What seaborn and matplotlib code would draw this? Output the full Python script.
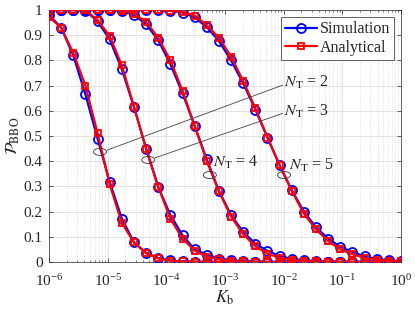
import numpy as np
import pandas as pd
import seaborn as sns
from matplotlib import pyplot as plt
from matplotlib.patches import Ellipse
from matplotlib.ticker import FixedLocator, LogLocator, NullFormatter, NullLocator

# Kb grid (30 log-spaced samples between 1e-6 and 1)
kb = np.logspace(-6, 0, 30)

# P_BBO, simulation (blue) and analytical (red), one list per N_T
sim_nt2 = [0.980, 0.930, 0.820, 0.665, 0.490, 0.318, 0.172, 0.078, 0.036, 0.016,
           0.006, 0.002, 0.001, 0, 0, 0, 0, 0, 0, 0,
           0, 0, 0, 0, 0, 0, 0, 0, 0, 0]
ana_nt2 = [0.973, 0.930, 0.830, 0.700, 0.512, 0.308, 0.155, 0.078, 0.035, 0.014,
           0.005, 0.002, 0.001, 0, 0, 0, 0, 0, 0, 0,
           0, 0, 0, 0, 0, 0, 0, 0, 0, 0]
sim_nt3 = [1.0, 1.0, 1.0, 0.998, 0.955, 0.883, 0.765, 0.615, 0.450, 0.298,
           0.186, 0.106, 0.050, 0.029, 0.013, 0.006, 0.003, 0.001, 0, 0,
           0, 0, 0, 0, 0, 0, 0, 0, 0, 0]
ana_nt3 = [1.0, 1.0, 1.0, 0.999, 0.960, 0.897, 0.780, 0.617, 0.450, 0.298,
           0.172, 0.093, 0.045, 0.021, 0.010, 0.004, 0.002, 0.001, 0, 0,
           0, 0, 0, 0, 0, 0, 0, 0, 0, 0]
sim_nt4 = [1.0, 1.0, 1.0, 1.0, 1.0, 1.0, 0.997, 0.980, 0.944, 0.880,
           0.785, 0.670, 0.540, 0.407, 0.282, 0.186, 0.119, 0.073, 0.044, 0.024,
           0.012, 0.006, 0.003, 0.001, 0, 0, 0, 0, 0, 0]
ana_nt4 = [1.0, 1.0, 1.0, 1.0, 1.0, 1.0, 0.998, 0.985, 0.953, 0.890,
           0.800, 0.680, 0.540, 0.400, 0.280, 0.180, 0.110, 0.062, 0.033, 0.017,
           0.008, 0.004, 0.002, 0.001, 0, 0, 0, 0, 0, 0]
sim_nt5 = [1.0, 1.0, 1.0, 1.0, 1.0, 1.0, 1.0, 1.0, 1.0, 1.0,
           0.997, 0.990, 0.971, 0.932, 0.877, 0.800, 0.709, 0.605, 0.494, 0.384,
           0.285, 0.200, 0.137, 0.093, 0.060, 0.040, 0.022, 0.012, 0.006, 0.003]
ana_nt5 = [1.0, 1.0, 1.0, 1.0, 1.0, 1.0, 1.0, 1.0, 1.0, 1.0,
           0.998, 0.992, 0.978, 0.940, 0.890, 0.815, 0.718, 0.610, 0.494, 0.384,
           0.282, 0.192, 0.129, 0.083, 0.050, 0.031, 0.016, 0.009, 0.004, 0.002]

nt_values = [2, 3, 4, 5]
sim_curves = [sim_nt2, sim_nt3, sim_nt4, sim_nt5]
ana_curves = [ana_nt2, ana_nt3, ana_nt4, ana_nt5]

rows = []
for nt, s, a in zip(nt_values, sim_curves, ana_curves):
    for k, vs, va in zip(kb, s, a):
        rows.append({'Kb': k, 'P': vs, 'NT': nt, 'method': 'Simulation'})
        rows.append({'Kb': k, 'P': va, 'NT': nt, 'method': 'Analytical'})
df = pd.DataFrame(rows)

sns.set_style('ticks')
plt.rcParams['font.family'] = ['Liberation Serif', 'DejaVu Serif']
plt.rcParams['mathtext.fontset'] = 'stix'
plt.rcParams['font.size'] = 11

fig = plt.figure(figsize=(4.15, 3.12), dpi=100)
ax = fig.add_axes([49 / 415, 1 - 262 / 312, 352 / 415, 252 / 312])

styles = {'Simulation': ('#0000ff', 'o', 6.5), 'Analytical': ('#ff0000', 's', 4.8)}
for method in ['Simulation', 'Analytical']:
    color, marker, ms = styles[method]
    for i, nt in enumerate(nt_values):
        sub = df[(df['method'] == method) & (df['NT'] == nt)]
        sns.lineplot(data=sub, x='Kb', y='P', ax=ax, color=color, lw=1.6,
                     marker=marker, markersize=ms, markerfacecolor='none',
                     markeredgecolor=color, markeredgewidth=1.3,
                     label=method if i == 0 else None, legend=False, zorder=3)

ax.set_xscale('log')
ax.set_xlim(1e-6, 1)
ax.set_ylim(0, 1)
ax.set_xticks([1e-6, 1e-5, 1e-4, 1e-3, 1e-2, 1e-1, 1])
ax.xaxis.set_minor_locator(LogLocator(base=10, subs=np.arange(2, 10)))
ax.xaxis.set_minor_formatter(NullFormatter())
ax.yaxis.set_minor_locator(NullLocator())
yt = np.round(np.arange(0, 1.01, 0.1), 1)
ax.yaxis.set_major_locator(FixedLocator(yt))
ax.set_yticklabels(['{:g}'.format(v) for v in yt])

ax.grid(True, which='major', color='#dedede', lw=0.6, ls='-')
ax.grid(True, which='minor', axis='x', color='#d0d0d0', lw=0.5, ls=':')
ax.set_axisbelow(True)
ax.tick_params(which='both', direction='in', top=True, right=True, color='#262626',
               labelsize=11, labelcolor='#262626')
ax.tick_params(which='major', length=3, width=0.5)
ax.tick_params(which='minor', length=1.5, width=0.4)
ax.tick_params(axis='x', which='major', pad=8)
ax.tick_params(axis='y', which='major', pad=4.5)
for sp in ax.spines.values():
    sp.set_color('#262626')
    sp.set_linewidth(0.5)

ax.set_xlabel(r'$K_{\rm b}$', fontsize=12.5, labelpad=0)
ax.set_ylabel(r'$\mathcal{P}_{\rm BBO}$', fontsize=12.5, labelpad=1)

leg = ax.legend(loc='upper right', fancybox=False, edgecolor='#262626', framealpha=1,
                fontsize=11.5, handlelength=2.0, handletextpad=0.15, labelspacing=0.15,
                borderpad=0.25, borderaxespad=0.45)
leg.get_frame().set_linewidth(0.5)

# N_T annotations (ellipses, leader lines and labels in axes fractions)
ell_w, ell_h = 0.037, 0.028
for cx, cy in [(0.145, 0.437), (0.282, 0.405), (0.457, 0.345), (0.668, 0.345)]:
    ax.add_patch(Ellipse((cx, cy), ell_w, ell_h, transform=ax.transAxes,
                         fill=False, ec='#333333', lw=0.6, zorder=5))
ax.plot([0.165, 0.664], [0.444, 0.702], transform=ax.transAxes, color='#444444', lw=0.6, zorder=5)
ax.plot([0.301, 0.664], [0.413, 0.590], transform=ax.transAxes, color='#444444', lw=0.6, zorder=5)
labels = [(0.668, 0.711, 2), (0.668, 0.599, 3), (0.466, 0.394, 4), (0.683, 0.385, 5)]
for tx, ty, nt in labels:
    ax.text(tx, ty, r'$N_{\rm T}$ = %d' % nt, transform=ax.transAxes, fontsize=11.5,
            ha='left', va='center', zorder=6)

fig.savefig('out.png', dpi=100)
